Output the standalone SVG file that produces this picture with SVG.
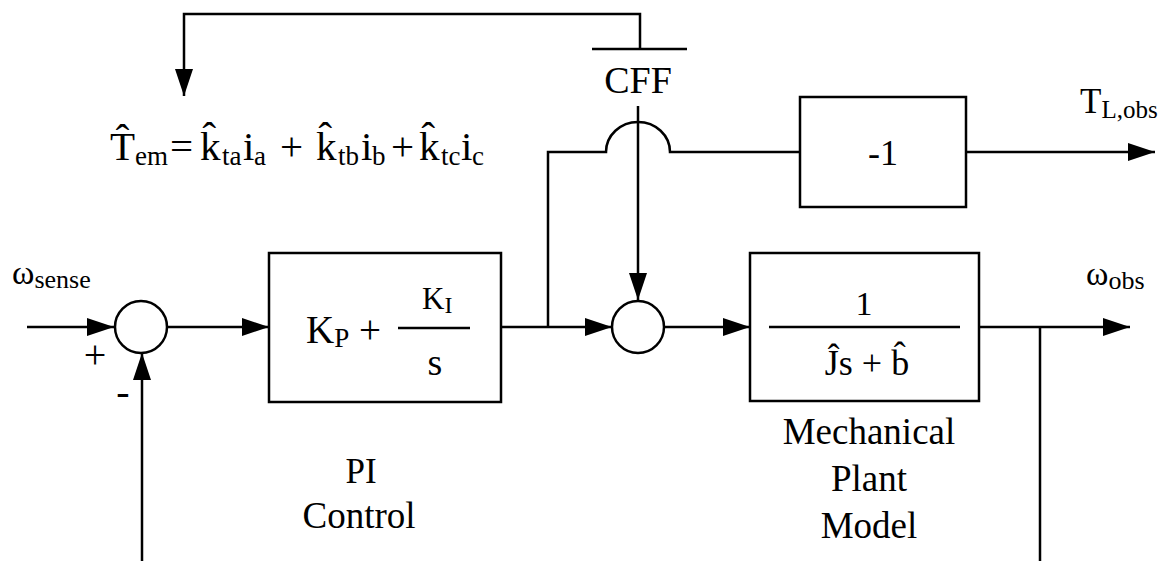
<svg xmlns="http://www.w3.org/2000/svg" width="1170" height="561" viewBox="0 0 1170 561">
<style>
.ln{fill:none;stroke:#000;stroke-width:2.5}
.bx{fill:#fff;stroke:#000;stroke-width:2.5}
.t{font-family:"Liberation Serif","Times New Roman",serif;fill:#000}
</style>
<defs>
<marker id="ah" markerWidth="28" markerHeight="18" refX="27" refY="9" orient="auto" markerUnits="userSpaceOnUse">
<path d="M0,0 L27,9 L0,18 z" fill="#000"/>
</marker>
</defs>
<rect width="1170" height="561" fill="#fff"/>

<g id="connectors">
<path class="ln" d="M640,49 V14 H184 V96" marker-end="url(#ah)"/>
<line class="ln" x1="592" y1="49" x2="687" y2="49"/>
<path class="ln" d="M638,106 V300" marker-end="url(#ah)"/>
<path class="ln" d="M548,327 V152 H606 A32,30 0 0 1 670,152 H800"/>
<path class="ln" d="M966,152 H1155" marker-end="url(#ah)"/>
<path class="ln" d="M27,327 H114" marker-end="url(#ah)"/>
<path class="ln" d="M142,561 V353" marker-end="url(#ah)"/>
<path class="ln" d="M167,327 H269" marker-end="url(#ah)"/>
<path class="ln" d="M501,327 H612" marker-end="url(#ah)"/>
<path class="ln" d="M664,327 H750" marker-end="url(#ah)"/>
<path class="ln" d="M979,327 H1130" marker-end="url(#ah)"/>
<path class="ln" d="M1040,327 V561"/>
</g>

<g id="torque-estimate">
<text class="t" font-size="41" y="160"><tspan x="110">T̂</tspan><tspan x="135" y="165" font-size="27">em</tspan><tspan x="170" y="160">=</tspan><tspan x="200">k̂</tspan><tspan x="222" y="165" font-size="27">ta</tspan><tspan x="243" y="160">i</tspan><tspan x="254" y="165" font-size="27">a</tspan><tspan x="280" y="160">+</tspan><tspan x="316">k̂</tspan><tspan x="338" y="165" font-size="27">tb</tspan><tspan x="361" y="160">i</tspan><tspan x="372" y="165" font-size="27">b</tspan><tspan x="391" y="160">+</tspan><tspan x="419">k̂</tspan><tspan x="441" y="165" font-size="27">tc</tspan><tspan x="461" y="160">i</tspan><tspan x="472" y="165" font-size="27">c</tspan></text>
</g>

<g id="cff">
<text class="t" font-size="38" x="638" y="93" text-anchor="middle">CFF</text>
</g>

<g id="neg-one">
<rect class="bx" x="800" y="97" width="166" height="110"/>
<text class="t" font-size="36" x="883" y="165" text-anchor="middle">-1</text>
</g>

<g id="tl-obs">
<text class="t" font-size="35" x="1080" y="113">T<tspan font-size="25" dy="5">L,obs</tspan></text>
</g>

<g id="w-sense">
<text class="t" font-size="34" x="12" y="284">ω<tspan font-size="26" dy="4">sense</tspan></text>
</g>

<g id="sum1">
<circle class="bx" cx="141" cy="327" r="26"/>
<text class="t" font-size="40" x="95" y="368" text-anchor="middle">+</text>
<text class="t" font-size="40" x="123" y="405" text-anchor="middle">-</text>
</g>

<g id="pi-control">
<rect class="bx" x="269" y="253" width="232" height="149"/>
<text class="t" font-size="39" x="306" y="343">K<tspan font-size="27" dy="4">P</tspan><tspan dy="-4"> +</tspan></text>
<line class="ln" x1="398" y1="328" x2="470" y2="328"/>
<text class="t" font-size="31" x="422" y="309">K<tspan font-size="24" dy="4">I</tspan></text>
<text class="t" font-size="38" x="435" y="375" text-anchor="middle">s</text>
<text class="t" font-size="35" x="361" y="483" text-anchor="middle">PI</text>
<text class="t" font-size="37" x="359" y="528" text-anchor="middle">Control</text>
</g>

<g id="sum2">
<circle class="bx" cx="638" cy="327" r="26"/>
</g>

<g id="mech-plant">
<rect class="bx" x="750" y="253" width="229" height="148"/>
<text class="t" font-size="34" x="864" y="315" text-anchor="middle">1</text>
<line class="ln" x1="769" y1="327" x2="960" y2="327"/>
<text class="t" font-size="36" x="867" y="375" text-anchor="middle">Ĵs + b̂</text>
<text class="t" font-size="37" x="869" y="444" text-anchor="middle">Mechanical</text>
<text class="t" font-size="37" x="869" y="491" text-anchor="middle">Plant</text>
<text class="t" font-size="37" x="869" y="538" text-anchor="middle">Model</text>
</g>

<g id="w-obs">
<text class="t" font-size="34" x="1086" y="285">ω<tspan font-size="26" dy="4">obs</tspan></text>
</g>
</svg>
